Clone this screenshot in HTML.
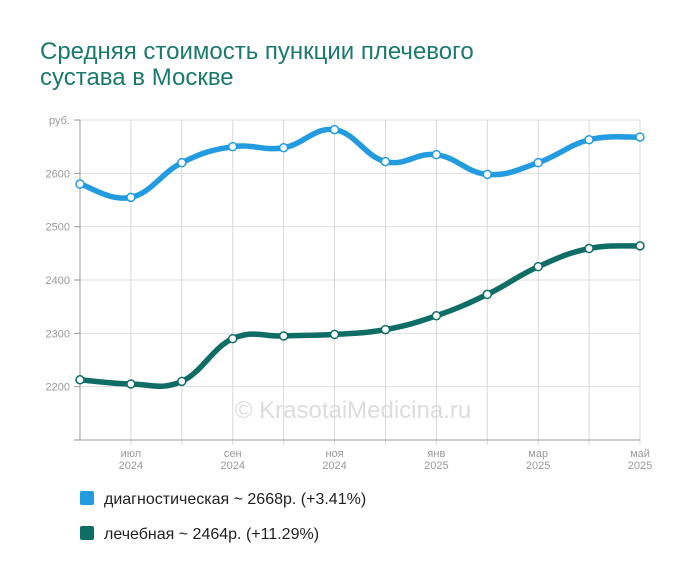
<!DOCTYPE html>
<html><head><meta charset="utf-8"><style>
body{margin:0;background:#fff;font-family:"Liberation Sans",sans-serif}
svg text{font-family:"Liberation Sans",sans-serif}
</style></head><body>
<svg width="700" height="583">
<text x="40" y="59" font-size="24" fill="#1a7a6e">Средняя стоимость пункции плечевого</text>
<text x="40" y="85" font-size="24" fill="#1a7a6e">сустава в Москве</text>
<g id="grid"></g>
<text x="353" y="418" font-size="24" fill="#dcdcdc" text-anchor="middle">© KrasotaiMedicina.ru</text>
<g id="series"></g>
<rect x="80" y="491" width="14" height="14" rx="2" fill="#229be0"/>
<text x="104" y="504" font-size="16" fill="#222">диагностическая ~ 2668р. (+3.41%)</text>
<rect x="80" y="526" width="14" height="14" rx="2" fill="#0e6e66"/>
<text x="104" y="539" font-size="16" fill="#222">лечебная ~ 2464р. (+11.29%)</text>
</svg>
<script>
const months=["","июл","","сен","","ноя","","янв","","мар","","май"];
const years=["","2024","","2024","","2024","","2025","","2025","","2025"];
const yTicks=[2200,2300,2400,2500,2600];
const diag=[2580,2555,2620,2650,2648,2682,2622,2635,2598,2620,2663,2668];
const lech=[2213,2205,2210,2290,2295,2298,2307,2333,2373,2425,2459,2464];
const NS="http://www.w3.org/2000/svg";
const x=i=>80+i*(560/11);
const y=v=>440-(v-2100)*0.5333;
const g=document.getElementById('grid'),s=document.getElementById('series');
function mk(p,t,a){const e=document.createElementNS(NS,t);for(const k in a)e.setAttribute(k,a[k]);p.appendChild(e);return e;}
yTicks.concat([2700]).forEach(v=>{
 const l=mk(g,'line',{x1:80,x2:640,y1:y(v),y2:y(v),stroke:'#dedede'});
 
 
 mk(g,'line',{x1:74,x2:80,y1:y(v),y2:y(v),stroke:'#999'});
 const t=mk(g,'text',{x:70,y:y(v)+4,'font-size':11,fill:'#999','text-anchor':'end'});
 t.textContent=v===2700?'руб.':v;
 
 
});
months.forEach((m,i)=>{
 if(i>0){const l=mk(g,'line',{x1:x(i),x2:x(i),y1:120,y2:445,stroke:'#d8d8d8'});
 
 }
 if(m){const t=mk(g,'text',{x:x(i),y:457,'font-size':11,fill:'#999','text-anchor':'middle'});t.textContent=m;
 
 
 const t2=mk(g,'text',{x:x(i),y:469,'font-size':11,fill:'#999','text-anchor':'middle'});t2.textContent=years[i];
 
 }
});
mk(g,'line',{x1:80,x2:80,y1:120,y2:440,stroke:'#999'});
mk(g,'line',{x1:74,x2:640,y1:440,y2:440,stroke:'#999'});
function path(d){const p=d.map((v,i)=>[x(i),y(v)]);let s='M'+p[0];
 for(let i=0;i<p.length-1;i++){const p0=p[i-1]||p[i],p1=p[i],p2=p[i+1],p3=p[i+2]||p2;const k=0.2;
 s+=` C${p1[0]+(p2[0]-p0[0])*k},${p1[1]+(p2[1]-p0[1])*k} ${p2[0]-(p3[0]-p1[0])*k},${p2[1]-(p3[1]-p1[1])*k} ${p2[0]},${p2[1]}`;}return s;}
[[diag,'#229be0','diag'],[lech,'#0e6e66','lech']].forEach(([d,c,n])=>{
 const p=mk(s,'path',{d:path(d),fill:'none',stroke:c,'stroke-width':5.5});
 
 
 d.forEach((v,i)=>{const pt=mk(s,'circle',{cx:x(i),cy:y(v),r:4,fill:'#fff',stroke:c,'stroke-width':1.5});
 
 });
});
</script>
</body></html>
